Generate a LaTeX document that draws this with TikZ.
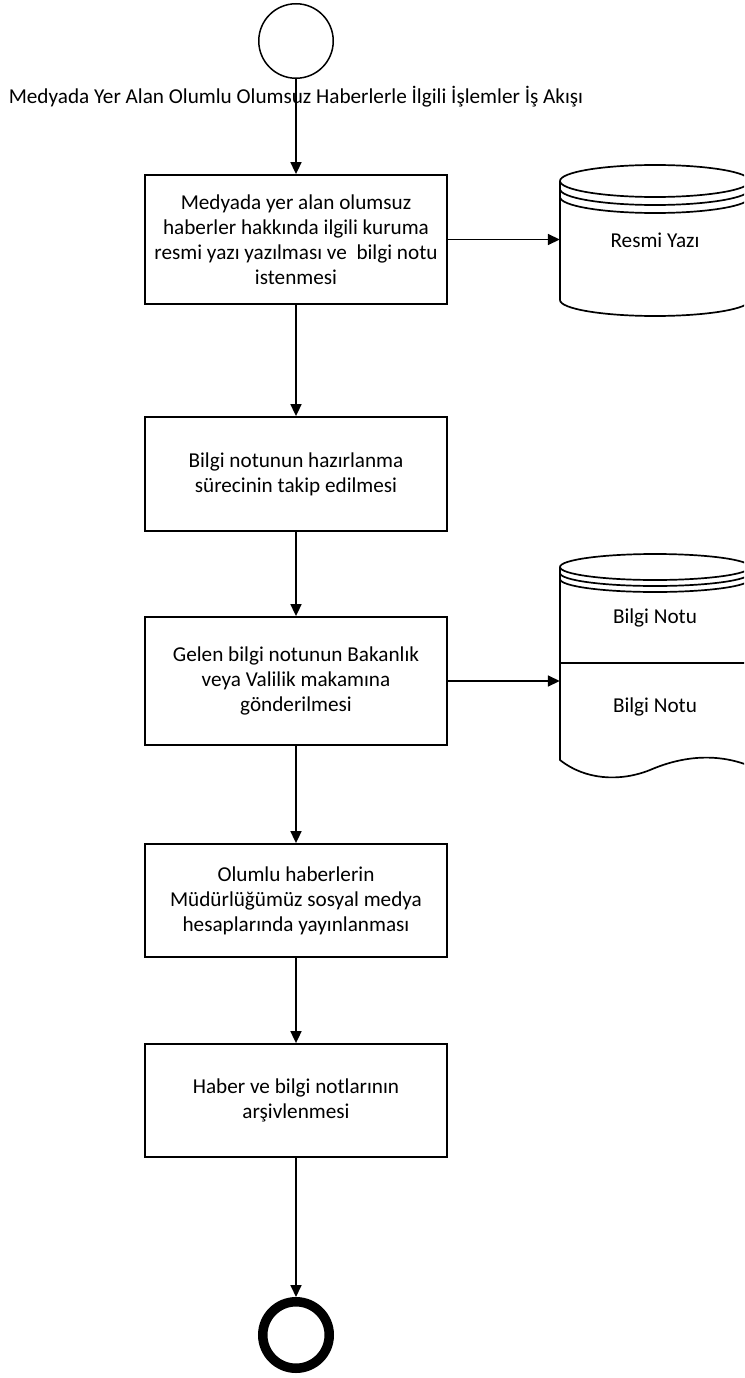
\documentclass[tikz,border=0pt]{standalone}
\usepackage{fontspec}
\setmainfont{Carlito}
\usetikzlibrary{arrows.meta}
\begin{document}
\begin{tikzpicture}[x=1pt,y=-1pt,
  every node/.style={font=\fontsize{21.2}{25}\selectfont, inner sep=0pt},
  proc/.style={draw, line width=1.8pt, minimum width=302pt, align=center},
  flow/.style={line width=1.7pt, -{Triangle[length=12pt,width=11pt]}},
  ln/.style={line width=1.7pt}]
\useasboundingbox (0,0) rectangle (744,1378);
\clip (0,0) rectangle (744,1378);

% start and end events
\node[circle, draw, line width=1.5pt, minimum size=74.5pt] (start) at (296,41) {};
\node (title) at (296,97) {Medyada Yer Alan Olumlu Olumsuz Haberlerle İlgili İşlemler İş Akışı};
\node[circle, draw, line width=9.5pt, minimum size=66.5pt] (stop) at (296,1335) {};

% process steps
\node[proc, minimum height=129pt] (b1) at (296,239.5)
  {Medyada yer alan olumsuz\\haberler hakkında ilgili kuruma\\resmi yazı yazılması ve\ \ bilgi notu\\istenmesi};
\node[proc, minimum height=114pt] (b2) at (296,474)
  {Bilgi notunun hazırlanma\\sürecinin takip edilmesi};
\node[proc, minimum height=128pt] (b3) at (296,681)
  {Gelen bilgi notunun Bakanlık\\veya Valilik makamına\\gönderilmesi};
\node[proc, minimum height=113pt] (b4) at (296,900.5)
  {Olumlu haberlerin\\Müdürlüğümüz sosyal medya\\hesaplarında yayınlanması};
\node[proc, minimum height=113pt] (b5) at (296,1100.5)
  {Haber ve bilgi notlarının\\arşivlenmesi};

% data store: Resmi Yazı
\draw[ln] (655,181) ellipse [x radius=95, y radius=16];
\draw[ln] (560,189) .. controls (560,197.8) and (602.5,205) .. (655,205)
                    .. controls (707.5,205) and (750,197.8) .. (750,189);
\draw[ln] (560,197) .. controls (560,205.8) and (602.5,213) .. (655,213)
                    .. controls (707.5,213) and (750,205.8) .. (750,197);
\draw[ln] (560,181) -- (560,300)
  .. controls (560,308.8) and (602.5,316) .. (655,316)
  .. controls (707.5,316) and (750,308.8) .. (750,300) -- (750,181);
\node[minimum width=190pt, minimum height=152pt] (db1) at (655,240) {Resmi Yazı};

% data store with document section: Bilgi Notu
\draw[ln] (655,567) ellipse [x radius=95, y radius=13];
\draw[ln] (560,573) .. controls (560,580.2) and (602.5,586) .. (655,586)
                    .. controls (707.5,586) and (750,580.2) .. (750,573);
\draw[ln] (560,579) .. controls (560,586.2) and (602.5,592) .. (655,592)
                    .. controls (707.5,592) and (750,586.2) .. (750,579);
\draw[ln] (560,567) -- (560,760)
  .. controls (585,780) and (620,782) .. (650,770)
  .. controls (680,757) and (715,752) .. (750,766) -- (750,567);
\draw[ln] (560,663) -- (750,663);
\node (db2a) at (655,618) {Bilgi Notu};
\node[minimum width=190pt, minimum height=80pt] (db2b) at (655,707) {Bilgi Notu};

% connectors
\draw[flow] (start) -- (b1);
\draw[flow] (b1) -- (b2);
\draw[flow] (b2) -- (b3);
\draw[flow] (b3) -- (b4);
\draw[flow] (b4) -- (b5);
\draw[flow] (b5) -- (stop);
\draw[flow] (b1.east) -- (b1.east -| db1.west);
\draw[flow] (b3.east) -- (b3.east -| db2b.west);
\end{tikzpicture}
\end{document}
